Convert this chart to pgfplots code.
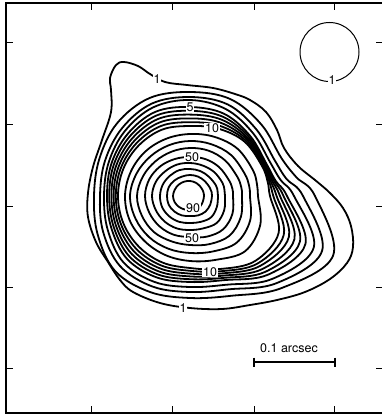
\documentclass[border=0pt]{standalone}
\usepackage{fontspec}
\setmainfont{TeX Gyre Heros}
\usepackage{pgfplots}
\pgfplotsset{compat=1.18}
\begin{document}
\begin{tikzpicture}
\path[use as bounding box] (-6pt,-2pt) rectangle (375pt,413pt);
\begin{axis}[
  at={(0pt,0pt)}, anchor=south west,
  scale only axis, width=377pt, height=410pt,
  xmin=-184, xmax=193, ymin=-193, ymax=217, y dir=reverse,
  xtick={-99,-17.5,64,144}, ytick={-154,-72,10,91,172},
  xticklabels={}, yticklabels={},
  tick align=inside, major tick length=7pt,
  tick style={black, line width=0.9pt},
  axis line style={line width=1.1pt},
  clip=false,
  cont/.style={black, line width=1.8pt, smooth cycle, tension=0.6, mark=none},
]
% contour 1 (cartesian, relative to peak region)
\addplot[cont] coordinates {(-80,-118) (-74,-131) (-66,-134) (-52,-130) (-40,-122) (-25,-114) (-3,-111) (23,-108) (45,-102) (60,-96) (76,-84) (87,-66) (94,-48) (108,-30) (125,-16) (140,-3) (153,12) (161,30) (163,51) (157,67) (140,83) (115,96) (87,104) (60,109) (32,113) (0,112) (-30,107) (-57,96) (-70,84) (-82,66) (-94,46) (-102,21) (-102,-3) (-97,-29) (-88,-56) (-79,-84) (-79,-106)};
% contours 2..10 (polar: angle, radius)
\addplot[cont, data cs=polar] coordinates {(0,125) (22.5,155) (45,130) (67.5,108) (90,102) (112.5,104) (135,106) (157.5,100) (180,96) (202.5,98) (225,103) (247.5,106) (270,104) (292.5,105) (315,101) (337.5,99) (350,108)};
\addplot[cont, data cs=polar] coordinates {(0,113) (22.5,143) (45,123) (67.5,101) (90,96) (112.5,98) (135,99) (157.5,94) (180,90) (202.5,92) (225,96) (247.5,100) (270,99) (292.5,99) (315,94) (337.5,92) (350,98)};
\addplot[cont, data cs=polar] coordinates {(0,104) (22.5,134) (45,117) (67.5,96) (90,91) (112.5,93) (135,94) (157.5,89) (180,86) (202.5,88) (225,92) (247.5,96) (270,96) (292.5,94) (315,89) (337.5,87) (350,92)};
\addplot[cont, data cs=polar] coordinates {(0,97) (22.5,125) (45,111) (67.5,91) (90,86) (112.5,88) (135,89) (157.5,85) (180,83) (202.5,85) (225,88) (247.5,91) (270,89) (292.5,89) (315,85) (337.5,83) (350,87)};
\addplot[cont, data cs=polar] coordinates {(0,93.5) (22.5,119) (45,107) (67.5,88.6) (90,83.2) (112.5,84.8) (135,85.6) (157.5,82.4) (180,80.8) (202.5,82.4) (225,84.8) (247.5,87.2) (270,85.2) (292.5,85.8) (315,83.4) (337.5,82) (350,85.4)};
\addplot[cont, data cs=polar] coordinates {(0,90) (22.5,113) (45,103) (67.5,86.2) (90,80.4) (112.5,81.6) (135,82.2) (157.5,79.8) (180,78.6) (202.5,79.8) (225,81.6) (247.5,83.4) (270,81.4) (292.5,82.6) (315,81.8) (337.5,81) (350,83.8)};
\addplot[cont, data cs=polar] coordinates {(0,86.6) (22.5,107) (45,99) (67.5,83.8) (90,77.6) (112.5,78.4) (135,78.8) (157.5,77.2) (180,76.4) (202.5,77.2) (225,78.4) (247.5,79.6) (270,77.6) (292.5,79.4) (315,80.2) (337.5,80) (350,82.2)};
\addplot[cont, data cs=polar] coordinates {(0,83.3) (22.5,101.5) (45,95.5) (67.5,81.4) (90,74.8) (112.5,75.2) (135,75.4) (157.5,74.6) (180,74.2) (202.5,74.6) (225,75.2) (247.5,75.8) (270,73.8) (292.5,76.2) (315,78.6) (337.5,79) (350,80.6)};
\addplot[cont, data cs=polar] coordinates {(0,80) (22.5,96) (45,92) (67.5,79) (90,72) (112.5,72) (135,72) (157.5,72) (180,72) (202.5,72) (225,72) (247.5,72) (270,70) (292.5,73) (315,77) (337.5,78) (350,79)};
% contours 20..90
\addplot[cont, data cs=polar] coordinates {(0,68) (22.5,76) (45,78) (67.5,69) (90,65) (112.5,64) (135,64) (157.5,65) (180,65) (202.5,64) (225,63) (247.5,62) (270,62) (292.5,64) (315,67) (337.5,68) (350,68)};
\addplot[cont, data cs=polar] coordinates {(0,60) (22.5,65) (45,66) (67.5,60) (90,57) (112.5,57) (135,58) (157.5,59) (180,60) (202.5,58) (225,56) (247.5,55) (270,55) (292.5,56) (315,58) (337.5,59) (350,60)};
\addplot[cont, data cs=polar] coordinates {(0,52) (22.5,55) (45,56) (67.5,52) (90,49) (112.5,49) (135,51) (157.5,52) (180,53) (202.5,51) (225,49) (247.5,48) (270,48) (292.5,49) (315,50) (337.5,51) (350,52)};
\addplot[cont, data cs=polar] coordinates {(0,43) (22.5,46) (45,47) (67.5,44) (90,41) (112.5,42) (135,43) (157.5,44) (180,45) (202.5,44) (225,42) (247.5,40) (270,39) (292.5,40) (315,41) (337.5,42) (350,43)};
\addplot[cont, data cs=polar] coordinates {(0,35) (22.5,37) (45,38) (67.5,35) (90,34) (112.5,35) (135,36) (157.5,37) (180,38) (202.5,37) (225,35) (247.5,34) (270,33) (292.5,33) (315,34) (337.5,35) (350,35)};
\addplot[cont, data cs=polar] coordinates {(0,28) (22.5,29) (45,30) (67.5,28) (90,27) (112.5,28) (135,29) (157.5,30) (180,30) (202.5,29.5) (225,28.5) (247.5,28) (270,27) (292.5,27) (315,27) (337.5,28) (350,28)};
\addplot[cont, data cs=polar] coordinates {(0,22) (22.5,22) (45,22) (67.5,21) (90,20) (112.5,21) (135,22) (157.5,23) (180,23) (202.5,23) (225,22) (247.5,21) (270,21) (292.5,21) (315,21) (337.5,21.5) (350,22)};
\addplot[cont, data cs=polar] coordinates {(0,14) (22.5,14) (45,14.5) (67.5,14) (90,14) (112.5,14.5) (135,15.5) (157.5,16.5) (180,17) (202.5,16.5) (225,16) (247.5,15.5) (270,15) (292.5,14.5) (315,14) (337.5,14) (350,14)};
% scale bar
\addplot[black, line width=1.3pt, mark=none] coordinates {(64,166) (145,166)};
\addplot[black, line width=1.3pt, mark=none] coordinates {(64,161.5) (64,170.5)};
\addplot[black, line width=1.3pt, mark=none] coordinates {(145,161.5) (145,170.5)};
% beam
\draw[black, line width=1pt] (axis cs:139.5,-144) circle[radius=29.5pt];
% labels
\tikzset{lab/.style={fill=white, inner sep=0.8pt, font=\fontsize{12.5}{12.5}\selectfont}}
\node[lab] at (axis cs:142,-116) {1};
\node[lab] at (axis cs:-33,-117) {1};
\node[lab] at (axis cs:0,-89) {5};
\node[lab] at (axis cs:22,-68) {10};
\node[lab] at (axis cs:2,-39) {50};
\node[lab] at (axis cs:3,12) {90};
\node[lab] at (axis cs:2,42) {50};
\node[lab] at (axis cs:20,76) {10};
\node[lab] at (axis cs:-7,112) {1};
\node[font=\fontsize{12.5}{12.5}\selectfont] at (axis cs:99,152) {0.1 arcsec};
\end{axis}
\end{tikzpicture}
\end{document}
